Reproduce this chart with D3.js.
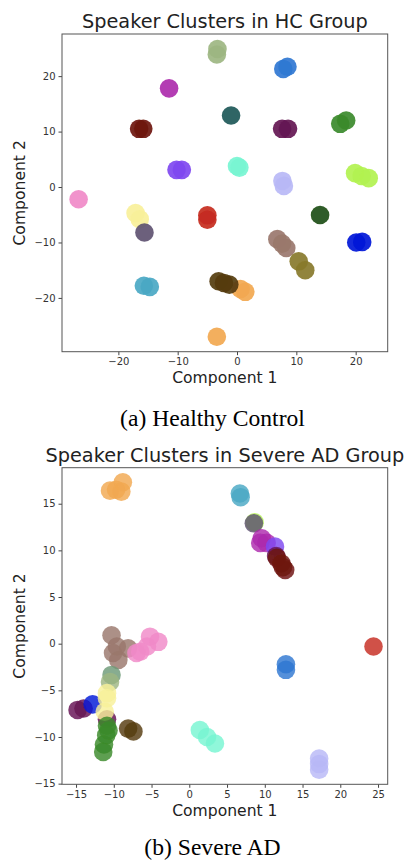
<!DOCTYPE html>
<html>
<head>
<meta charset="utf-8">
<script src="https://cdn.jsdelivr.net/npm/d3@7"></script>
<style>
  html, body { margin: 0; padding: 0; background: #fff; }
  svg { display: block; }
</style>
</head>
<body>
<svg id="chart" width="407" height="860"></svg>
<script>
// ---------- palette (speaker colours) ----------
const speakerColors = {
  sage: "#9db682", blue: "#2f78d2", magenta: "#ad2aad", darkteal: "#1f5858",
  darkred: "#6e140e", darkpurple: "#641452", green: "#3b8a2a", violet: "#7f48f0",
  aqua: "#78f5d2", lavender: "#b8b8f6", lime: "#b2f250", pink: "#f08ac8",
  yellow: "#f8f09a", slate: "#5e5272", red: "#c62a20", darkgreen: "#1e4e14",
  pureblue: "#0418d8", taupe: "#9a786c", olive: "#887a2a", cyan: "#4aa8c4",
  darkbrown: "#553c10", orange: "#f2a850", graygreen: "#6e9a78"
};

// ---------- Healthy Control data ----------
const hcSpeaker = ["sage","sage","blue","blue","magenta","darkteal","darkred","darkred",
  "darkpurple","darkpurple","green","green","violet","violet","aqua","aqua",
  "lavender","lavender","lime","lime","lime","pink","yellow","yellow","slate",
  "red","red","darkgreen","pureblue","pureblue","taupe","taupe","taupe",
  "olive","olive","cyan","cyan","orange","orange","darkbrown","darkbrown","darkbrown","orange"];
const hcX = [-3.3,-3.4, 7.8,8.5, -11.45, -1.0, -16.5,-15.8,
  7.6,8.6, 17.4,18.4, -10.2,-9.3, 0.0,0.4,
  7.65,7.9, 19.9,21.0,22.2, -26.7, -17.1,-16.4, -15.6,
  -5.0,-5.0, 14.0, 20.1,21.1, 6.8,7.6,8.3,
  10.4,11.5, -15.7,-14.7, 0.6,1.4, -3.1,-2.2,-1.3, -3.4];
const hcY = [24.9,23.9, 21.3,21.7, 17.8, 12.9, 10.5,10.5,
  10.5,10.5, 11.4,12.0, 3.1,3.1, 3.8,3.5,
  1.1,0.2, 2.5,2.0,1.6, -2.2, -4.7,-5.8, -8.2,
  -5.1,-5.9, -5.05, -10.0,-9.9, -9.4,-10.2,-11.0,
  -13.4,-15.0, -17.8,-18.0, -18.4,-18.9, -17.0,-17.3,-17.6, -27.0];
const hcXTicks = [-20, -10, 0, 10, 20];
const hcYTicks = [-20, -10, 0, 10, 20];

// ---------- Severe AD data ----------
const adSpeaker = ["orange","orange","orange","orange","cyan","cyan","lime","slate",
  "magenta","magenta","magenta","violet","darkpurple","darkred","darkred","darkred","darkred",
  "taupe","taupe","taupe","taupe","taupe","pink","pink","pink","pink","pink",
  "graygreen","sage","darkpurple","darkpurple","pureblue","yellow","yellow","darkpurple","yellow",
  "green","green","green","green","green","darkbrown","darkbrown",
  "aqua","aqua","aqua","blue","blue","lavender","lavender","lavender","red"];
const adX = [-10.5,-8.8,-9.0,-9.7, 6.7,6.8, 8.65,8.55,
  9.6,9.4,10.25, 11.35, 11.5, 11.6,12.2,12.7,12.4,
  -10.3,-9.6,-8.1,-9.4,-10.1, -5.2,-4.1,-6.5,-5.6,-7.0,
  -10.3, -10.5, -14.8,-14.0, -12.8, -10.9,-10.9, -10.9,-11.2,
  -10.9,-11.0,-11.3,-11.4,-10.7, -8.1,-7.4,
  1.4,2.35,3.4, 12.8,12.8, 17.2,17.2,17.2, 24.4];
const adY = [16.4,17.3,16.3,16.5, 16.1,15.7, 13.0,12.9,
  11.3,10.8,10.8, 10.4, 9.4, 9.2,8.6,7.9,8.2,
  0.9,-0.3,-0.5,-1.75,-1.0, 0.75,0.2,-0.86,-0.3,-1.0,
  -3.35, -4.1, -7.1,-6.95, -6.5, -5.3,-5.85, -8.1,-7.3,
  -8.8,-9.8,-10.8,-11.6,-9.3, -9.1,-9.4,
  -9.25,-10.0,-10.7, -2.2,-2.8, -12.3,-12.9,-13.5, -0.3];
const adXTicks = [-15, -10, -5, 0, 5, 10, 15, 20, 25];
const adYTicks = [-15, -10, -5, 0, 5, 10, 15];

// ---------- drawing ----------
const svg = d3.select("#chart");
svg.append("rect").attr("width", 407).attr("height", 860).attr("fill", "#fff");

const defs = svg.append("defs");
defs.append("filter").attr("id", "soft")
  .attr("x", "-20%").attr("y", "-20%").attr("width", "140%").attr("height", "140%")
  .append("feGaussianBlur").attr("stdDeviation", 0.6);

function panel(opt) {
  const x = d3.scaleLinear().domain(opt.xDomain).range([opt.left, opt.right]);
  const y = d3.scaleLinear().domain(opt.yDomain).range([opt.bottom, opt.top]);
  const g = svg.append("g");

  const pts = opt.speaker.map((s, i) => ({ s, x: opt.xs[i], y: opt.ys[i] }));
  const clipId = "clip" + opt.id;
  defs.append("clipPath").attr("id", clipId).append("rect")
    .attr("x", opt.left).attr("y", opt.top)
    .attr("width", opt.right - opt.left).attr("height", opt.bottom - opt.top);
  g.append("g").attr("clip-path", `url(#${clipId})`).attr("filter", "url(#soft)")
    .selectAll("circle").data(pts).join("circle")
    .attr("cx", d => x(d.x)).attr("cy", d => y(d.y)).attr("r", 9.3)
    .attr("fill", d => speakerColors[d.s]).attr("fill-opacity", opt.alpha);

  const fmt = d => d < 0 ? "\u2212" + Math.abs(d) : d;
  const xa = g.append("g").attr("transform", `translate(0,${opt.bottom})`)
    .call(d3.axisBottom(x).tickValues(opt.xTicks).tickSize(3.5).tickPadding(3).tickFormat(fmt));
  const ya = g.append("g").attr("transform", `translate(${opt.left},0)`)
    .call(d3.axisLeft(y).tickValues(opt.yTicks).tickSize(3.5).tickPadding(3).tickFormat(fmt));
  [xa, ya].forEach(a => {
    a.select(".domain").remove();
    a.selectAll("line").attr("stroke", "#444");
    a.selectAll("text").attr("font-family", "DejaVu Sans").attr("font-size", 10).attr("fill", "#333");
  });

  g.append("rect").attr("x", opt.left).attr("y", opt.top)
    .attr("width", opt.right - opt.left).attr("height", opt.bottom - opt.top)
    .attr("fill", "none").attr("stroke", "#555").attr("stroke-width", 1);

  g.append("text").attr("x", (opt.left + opt.right) / 2).attr("y", opt.titleY)
    .attr("text-anchor", "middle").attr("font-family", "DejaVu Sans")
    .attr("font-size", 19.3).attr("fill", "#222").text(opt.title);
  g.append("text").attr("x", (opt.left + opt.right) / 2).attr("y", opt.xLabelY)
    .attr("text-anchor", "middle").attr("font-family", "DejaVu Sans")
    .attr("font-size", 15.6).attr("fill", "#222").text("Component 1");
  g.append("text")
    .attr("transform", `translate(25,${(opt.top + opt.bottom) / 2}) rotate(-90)`)
    .attr("text-anchor", "middle").attr("font-family", "DejaVu Sans")
    .attr("font-size", 15.6).attr("fill", "#222").text("Component 2");
  g.append("text").attr("x", 212.5).attr("y", opt.captionY)
    .attr("text-anchor", "middle").attr("font-family", "Liberation Serif")
    .attr("font-size", 23.6).attr("fill", "#000").text(opt.caption);
}

panel({
  id: "hc", speaker: hcSpeaker, xs: hcX, ys: hcY, xTicks: hcXTicks, yTicks: hcYTicks,
  xDomain: [-29.5, 25.4], yDomain: [-29.7, 27.6], alpha: 0.92,
  left: 62, right: 387.7, top: 34, bottom: 351.7,
  title: "Speaker Clusters in HC Group", titleY: 28, xLabelY: 383,
  caption: "(a) Healthy Control", captionY: 426
});
panel({
  id: "ad", speaker: adSpeaker, xs: adX, ys: adY, xTicks: adXTicks, yTicks: adYTicks,
  xDomain: [-16.86, 26.28], yDomain: [-15.07, 18.86], alpha: 0.82,
  left: 62, right: 387.7, top: 467.7, bottom: 784.3,
  title: "Speaker Clusters in Severe AD Group", titleY: 461.7, xLabelY: 816,
  caption: "(b) Severe AD", captionY: 855
});
</script>
</body>
</html>
